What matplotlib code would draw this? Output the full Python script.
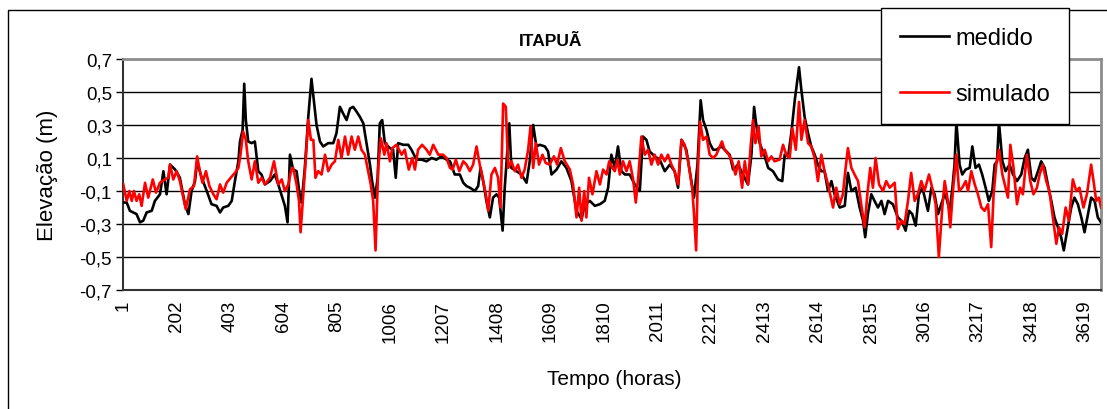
import matplotlib
matplotlib.use('Agg')
import matplotlib.pyplot as plt
from matplotlib.patches import Rectangle

plt.rcParams['font.family'] = ['Liberation Sans', 'DejaVu Sans']

# medido (hora, elevação m)
horas_medido = (
    [2, 15, 27, 52, 65, 77, 90, 109, 121, 140, 153, 165, 178, 197, 215, 234, 247, 259, 272, 280,
     297, 316, 334, 353, 366, 378, 397, 410, 422, 435, 441, 451, 457, 463, 472, 485, 497, 510, 522, 535,
     554, 572, 585, 604, 610]
    + [620, 629, 641, 654, 667, 673, 685, 698, 710, 720, 729, 742, 754, 773, 792, 804, 817, 829, 842, 855,
       867, 880, 892, 905, 917, 930, 938, 949, 959, 967, 976, 986, 1005, 1017, 1027, 1036, 1055, 1074, 1086, 1105,
       1124, 1143, 1162, 1180, 1199, 1218, 1231]
    + [1249, 1268, 1281, 1293, 1306, 1325, 1337, 1346, 1356, 1368, 1381, 1393, 1406, 1416, 1429, 1437, 1454, 1462, 1481, 1500,
       1519, 1531, 1544, 1556, 1569, 1588, 1600, 1613, 1632, 1650, 1669, 1688, 1707, 1726, 1738, 1757, 1776, 1795, 1813, 1826,
       1838, 1851]
    + [1863, 1876, 1889, 1907, 1926, 1945, 1957, 1970, 1982, 2001, 2020, 2039, 2058, 2076, 2089, 2102, 2120, 2137, 2149, 2162,
       2174, 2183, 2196, 2208, 2221, 2233, 2252, 2271, 2283, 2296, 2315, 2333, 2352, 2365, 2375, 2384, 2396, 2415, 2428, 2446,
       2465]
    + [2481, 2490, 2503, 2515, 2528, 2544, 2553, 2565, 2578, 2590, 2603, 2615, 2628, 2640, 2653, 2666, 2678, 2697, 2716, 2728,
       2741, 2757, 2772, 2785, 2793, 2803, 2816, 2828, 2841, 2854, 2866, 2879, 2897, 2916, 2929, 2945, 2958, 2970, 2983, 2995,
       3008, 3020, 3029, 3042, 3054, 3067, 3079, 3092]
    + [3098, 3111, 3121, 3129, 3136, 3148, 3158, 3171, 3186, 3196, 3208, 3221, 3233, 3246, 3258, 3271, 3280, 3289, 3296, 3309,
       3321, 3336, 3349, 3364, 3380, 3393, 3405, 3418, 3430, 3443, 3455, 3468, 3480, 3493, 3505, 3518, 3530, 3540, 3555, 3568,
       3580, 3593, 3606, 3618, 3631, 3643, 3656, 3668, 3680]
)
medido = (
    [-0.17, -0.17, -0.22, -0.24, -0.29, -0.28, -0.23, -0.22, -0.16, -0.12, 0.02, -0.12, 0.06, 0.03, -0.02, -0.18, -0.24, -0.10, -0.04, 0.08,
     -0.02, -0.10, -0.18, -0.19, -0.23, -0.20, -0.19, -0.16, -0.04, 0.08, 0.20, 0.27, 0.55, 0.33, 0.20, 0.19, 0.20, 0.02, 0.00, -0.06,
     -0.04, 0.00, -0.06, -0.16, -0.19]
    + [-0.29, 0.12, 0.03, 0.02, -0.14, -0.17, 0.04, 0.35, 0.58, 0.43, 0.30, 0.20, 0.17, 0.19, 0.19, 0.25, 0.41, 0.37, 0.33, 0.40,
       0.41, 0.38, 0.35, 0.31, 0.19, 0.06, -0.04, -0.14, -0.02, 0.31, 0.33, 0.19, 0.16, 0.15, -0.02, 0.19, 0.18, 0.18, 0.15, 0.09,
       0.09, 0.08, 0.10, 0.09, 0.11, 0.09, 0.08]
    + [0.00, 0.00, -0.05, -0.07, -0.08, -0.10, -0.07, 0.04, -0.04, -0.16, -0.26, -0.14, -0.12, -0.14, -0.34, -0.08, 0.31, 0.04, 0.02, 0.00,
       -0.05, 0.08, 0.30, 0.17, 0.18, 0.17, 0.14, 0.00, 0.03, 0.08, 0.04, -0.04, -0.22, -0.27, -0.18, -0.16, -0.19, -0.18, -0.16, -0.08,
       0.12, 0.04]
    + [0.17, 0.02, 0.00, 0.00, -0.06, -0.10, 0.23, 0.21, 0.14, 0.11, 0.09, 0.02, 0.06, 0.02, -0.08, 0.21, 0.15, -0.02, -0.14, 0.06,
       0.45, 0.33, 0.27, 0.19, 0.15, 0.15, 0.17, 0.14, 0.12, 0.03, 0.06, 0.00, -0.06, 0.12, 0.41, 0.29, 0.19, 0.11, 0.04, 0.02,
       -0.03]
    + [-0.04, 0.12, 0.11, 0.25, 0.45, 0.65, 0.51, 0.35, 0.25, 0.17, 0.12, 0.06, 0.02, 0.02, -0.10, -0.04, -0.12, -0.20, -0.19, 0.01,
       -0.10, -0.08, -0.20, -0.28, -0.38, -0.24, -0.12, -0.16, -0.20, -0.16, -0.24, -0.16, -0.18, -0.26, -0.28, -0.34, -0.22, -0.24, -0.31, -0.12,
       -0.08, -0.16, -0.22, -0.08, -0.12, -0.24, -0.18, -0.12]
    + [-0.14, -0.22, -0.08, 0.06, 0.32, 0.06, 0.00, 0.03, 0.04, 0.17, 0.04, 0.06, 0.00, -0.08, -0.16, -0.10, 0.06, 0.08, 0.32, 0.08,
       0.02, 0.06, 0.00, -0.04, 0.00, 0.10, 0.15, -0.02, -0.04, 0.02, 0.08, 0.04, -0.06, -0.16, -0.26, -0.32, -0.38, -0.46, -0.32, -0.20,
       -0.14, -0.18, -0.26, -0.35, -0.24, -0.14, -0.16, -0.26, -0.29]
)

# simulado
horas_simulado = (
    [2, 15, 25, 34, 42, 52, 62, 71, 84, 96, 113, 125, 140, 159, 171, 178, 190, 203, 215, 228,
     237, 253, 268, 280, 290, 300, 313, 326, 341, 353, 366, 378, 391, 406, 422, 435, 443, 453, 463, 472,
     485, 497, 510, 522, 535, 554, 569, 585, 598, 610]
    + [623, 633, 641, 654, 663, 669, 679, 688, 698, 708, 717, 725, 735, 748, 761, 773, 786, 798, 811, 823,
       836, 848, 861, 873, 886, 898, 911, 923, 933, 942, 951, 961, 971, 984, 992, 1005, 1014, 1030, 1049, 1061,
       1076, 1089, 1099, 1111, 1126, 1143, 1155, 1168, 1187, 1205, 1218, 1231]
    + [1241, 1253, 1266, 1281, 1293, 1306, 1318, 1331, 1343, 1356, 1366, 1375, 1387, 1400, 1412, 1421, 1431, 1441, 1450, 1462,
       1475, 1487, 1500, 1512, 1525, 1534, 1544, 1554, 1566, 1579, 1591, 1606, 1622, 1634, 1648, 1663, 1682, 1694, 1707, 1717,
       1726, 1736, 1744, 1754, 1767, 1782, 1795, 1807, 1820, 1830, 1842, 1851]
    + [1861, 1870, 1882, 1895, 1907, 1920, 1930, 1939, 1951, 1964, 1976, 1989, 2001, 2014, 2026, 2039, 2051, 2064, 2076, 2089,
       2102, 2114, 2127, 2142, 2149, 2157, 2164, 2172, 2183, 2196, 2208, 2221, 2233, 2246, 2254, 2264, 2280, 2292, 2305, 2317,
       2330, 2340, 2352, 2362, 2371, 2380, 2392, 2402, 2415, 2428, 2440, 2452, 2471]
    + [2484, 2496, 2509, 2519, 2532, 2544, 2553, 2565, 2578, 2590, 2603, 2615, 2628, 2640, 2653, 2672, 2684, 2697, 2709, 2718,
       2728, 2741, 2753, 2766, 2778, 2791, 2801, 2812, 2822, 2832, 2845, 2860, 2872, 2885, 2904, 2916, 2929, 2941, 2954, 2966,
       2979, 2991, 3004, 3016, 3033, 3045, 3058, 3070, 3083]
    + [3092, 3104, 3113, 3123, 3136, 3146, 3158, 3171, 3180, 3192, 3205, 3217, 3230, 3242, 3255, 3267, 3276, 3286, 3296, 3309,
       3321, 3330, 3339, 3351, 3364, 3376, 3386, 3401, 3414, 3426, 3439, 3449, 3461, 3474, 3486, 3499, 3512, 3522, 3534, 3547,
       3559, 3574, 3587, 3599, 3614, 3627, 3643, 3652, 3662, 3672, 3680]
)
simulado = (
    [-0.06, -0.16, -0.10, -0.16, -0.10, -0.16, -0.12, -0.19, -0.05, -0.14, -0.03, -0.11, -0.05, -0.03, -0.02, 0.06, -0.03, 0.02, -0.04, -0.14,
     -0.21, -0.09, -0.07, 0.11, 0.02, -0.05, 0.02, -0.07, -0.12, -0.15, -0.06, -0.11, -0.05, -0.02, 0.01, 0.04, 0.12, 0.26, 0.21, 0.08,
     -0.03, 0.08, -0.05, -0.02, -0.06, -0.02, 0.08, -0.06, -0.03, -0.10]
    + [-0.06, 0.02, 0.04, -0.06, -0.16, -0.35, -0.12, 0.08, 0.33, 0.21, 0.21, -0.02, 0.02, 0.00, 0.12, 0.02, 0.06, 0.08, 0.21, 0.10,
       0.23, 0.12, 0.23, 0.15, 0.23, 0.15, 0.12, 0.02, -0.06, -0.16, -0.46, 0.04, 0.22, 0.12, 0.19, 0.08, 0.16, 0.18, 0.12, 0.15,
       0.03, 0.10, 0.03, 0.15, 0.18, 0.15, 0.12, 0.18, 0.12, 0.12, 0.10, 0.04]
    + [0.03, 0.09, 0.02, 0.08, 0.06, 0.02, 0.06, 0.17, 0.06, -0.04, -0.12, -0.22, 0.00, 0.04, -0.02, -0.20, 0.43, 0.41, 0.04, 0.08,
       0.02, 0.06, -0.02, 0.03, 0.15, 0.29, 0.04, 0.19, 0.06, 0.12, 0.07, 0.06, 0.11, 0.06, 0.16, 0.08, 0.03, -0.06, -0.26, -0.08,
       -0.28, -0.10, -0.26, -0.02, -0.12, 0.02, -0.06, 0.03, 0.00, 0.08, 0.04, 0.02]
    + [0.09, 0.00, 0.08, 0.02, 0.08, -0.03, -0.17, -0.02, 0.23, 0.12, 0.15, 0.06, 0.12, 0.06, 0.12, 0.08, 0.12, 0.06, 0.02, -0.06,
       0.21, 0.18, 0.08, -0.08, -0.24, -0.46, 0.04, 0.32, 0.21, 0.23, 0.12, 0.10, 0.12, 0.17, 0.20, 0.15, 0.12, 0.08, 0.00, 0.08,
       -0.08, 0.08, -0.06, 0.17, 0.33, 0.19, 0.29, 0.11, 0.15, 0.08, 0.11, 0.08, 0.09]
    + [0.18, 0.12, 0.10, 0.28, 0.15, 0.44, 0.21, 0.33, 0.19, 0.17, 0.10, -0.04, 0.12, 0.02, -0.06, -0.20, -0.08, -0.18, -0.12, 0.02,
       0.16, 0.04, 0.00, -0.04, -0.18, -0.32, -0.12, 0.04, -0.08, 0.10, -0.06, -0.10, -0.04, -0.08, -0.05, -0.33, -0.28, -0.30, -0.16, 0.01,
       -0.16, -0.12, -0.04, -0.10, 0.00, -0.08, -0.18, -0.50, -0.20]
    + [-0.04, -0.16, -0.32, -0.10, 0.12, -0.10, -0.08, -0.04, -0.10, 0.02, -0.06, -0.12, -0.20, -0.22, -0.18, -0.44, -0.12, 0.06, 0.15, 0.00,
       -0.08, -0.14, 0.18, 0.04, -0.18, -0.08, -0.12, 0.12, -0.04, -0.12, -0.08, 0.00, 0.06, -0.04, -0.10, -0.26, -0.42, -0.32, -0.36, -0.20,
       -0.28, -0.03, -0.10, -0.08, -0.20, -0.12, 0.06, -0.04, -0.16, -0.14, -0.20]
)

marcas_x = list(range(1, 3620, 201))
marcas_y = [-0.7, -0.5, -0.3, -0.1, 0.1, 0.3, 0.5, 0.7]

W, H = 1107, 410
fig = plt.figure(figsize=(W / 100, H / 100), dpi=100)
ax = fig.add_axes([123 / W, 1 - 291 / H, (1101 - 123) / W, (291 - 60) / H])

# moldura externa do gráfico
fig.patches.append(Rectangle((8 / W, -0.01), 1.1, 1 - 11 / H + 0.01, transform=fig.transFigure,
                             fill=False, edgecolor='black', linewidth=1, zorder=0))

for v in marcas_y[1:-1]:
    ax.axhline(v, color='black', linewidth=1, zorder=1)

ax.plot(horas_medido, medido, color='black', linewidth=1.9, label='medido', zorder=3)
ax.plot(horas_simulado, simulado, color='#ff0000', linewidth=1.9, label='simulado', zorder=4)

ax.set_xlim(1, 3680)
ax.set_ylim(-0.7, 0.7)
ax.set_yticks(marcas_y)
ax.set_yticklabels([f'{v:.1f}'.replace('.', ',') for v in marcas_y], fontsize=13.5)
ax.set_xticks(marcas_x)
ax.set_xticklabels([str(m) for m in marcas_x], rotation=90, fontsize=13.5)
ax.tick_params(axis='y', length=5, width=1, color='black', pad=3)
ax.tick_params(axis='x', length=0, pad=7)

for s in ['top', 'right']:
    ax.spines[s].set_color('#8c8c8c')
    ax.spines[s].set_linewidth(2)
for s in ['left', 'bottom']:
    ax.spines[s].set_color('#333333')
    ax.spines[s].set_linewidth(1.5)

fig.text(48 / W, 1 - 175 / H, 'Elevação (m)', rotation=90, fontsize=16, ha='center', va='center')
fig.text(614 / W, 1 - 380 / H, 'Tempo (horas)', fontsize=15, ha='center', va='center')
fig.text(551 / W, 1 - 42 / H, 'ITAPUÃ', fontsize=12.5, fontweight='bold', ha='center', va='center')

leg = fig.legend(loc='upper left', bbox_to_anchor=(881 / W, 1 - 9 / H), fontsize=17,
                 frameon=True, fancybox=False, edgecolor='black', framealpha=1,
                 borderpad=0.8, labelspacing=1.45, handlelength=2.1, handletextpad=0.25,
                 borderaxespad=0)
leg.get_frame().set_linewidth(1)
leg.set_zorder(10)

fig.savefig('out.png', dpi=100)
